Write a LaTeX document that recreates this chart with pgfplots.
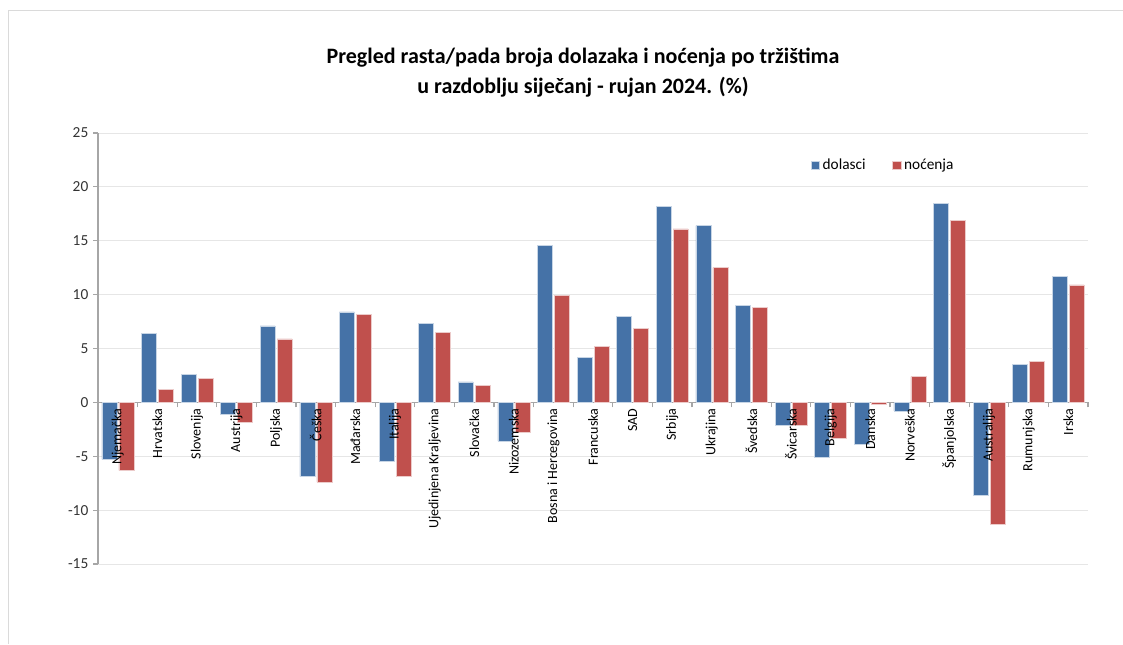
\documentclass[border=0pt]{standalone}
\usepackage{pgfplots}
\pgfplotsset{compat=1.18}
\usepackage{fontspec}
\setmainfont{Carlito}
\definecolor{barblue}{HTML}{4572A7}
\definecolor{barred}{HTML}{C0504D}
\definecolor{gridc}{HTML}{E6E6E6}
\definecolor{axisc}{HTML}{A6A6A6}
\definecolor{framec}{HTML}{DADADA}
\pgfplotstableread{
x d n
0 -5.3 -6.3
1 6.4 1.2
2 2.6 2.2
3 -1.1 -1.8
4 7.1 5.9
5 -6.9 -7.4
6 8.4 8.2
7 -5.5 -6.9
8 7.3 6.5
9 1.9 1.6
10 -3.6 -2.8
11 14.6 9.9
12 4.2 5.2
13 8.0 6.9
14 18.2 16.1
15 16.4 12.5
16 9.0 8.8
17 -2.1 -2.1
18 -5.1 -3.3
19 -3.9 -0.2
20 -0.8 2.4
21 18.5 16.9
22 -8.6 -11.3
23 3.5 3.8
24 11.7 10.9
}\datatable
\begin{document}
\begin{tikzpicture}[lbl/.style={rotate=90, anchor=east, font=\fontsize{10.5}{12}\selectfont, text=black, inner xsep=4.5pt, inner ysep=0pt}]
\useasboundingbox (0,0) rectangle (842.25pt,483pt);
\draw[color=framec, line width=0.75pt] (6pt,0) -- (6pt,474.75pt) -- (842.25pt,474.75pt);
\node[font=\fontsize{16.5}{18}\selectfont\bfseries] at (437.25pt,439.5pt) {Pregled rasta/pada broja dolazaka i noćenja po tržištima};
\node[font=\fontsize{16.5}{18}\selectfont\bfseries] at (437.25pt,417.75pt) {u razdoblju siječanj - rujan 2024. (\%)};
\begin{axis}[
  at={(73.5pt,60pt)}, anchor=south west,
  scale only axis, width=742.5pt, height=323.25pt,
  xmin=-0.5, xmax=24.5, ymin=-15, ymax=25,
  clip=false,
  ytick={-15,-10,...,25},
  axis y line=left, axis x line=middle,
  axis line style={-, draw=axisc, line width=0.9pt},
  ybar, bar width=11.25pt, ybar=1.5pt,
  xtick={0,...,24},
  xticklabels={},
  xtick style={draw=none},
  minor xtick={-0.5,0.5,...,24.5},
  minor x tick style={draw=axisc, line width=0.9pt},
  minor tick length=3.75pt, major tick length=3.75pt,
  tick align=outside,
  ytick style={draw=axisc, line width=0.9pt},
  ymajorgrids, grid style={gridc, line width=0.75pt},
  yticklabel style={font=\fontsize{11.5}{12}\selectfont, text=black!80},
  /pgf/number format/assume math mode=true,
  legend style={at={(0.7934,0.9246)}, anchor=center, draw=none, fill=none,
    font=\fontsize{11.5}{12}\selectfont, legend columns=2,
    /tikz/every even column/.append style={column sep=18pt}},
  legend image code/.code={\fill[#1] (0pt,-3pt) rectangle (6.5pt,3.5pt);},
]
\addplot[fill=barblue, draw=white!70!barblue, line width=0.4pt] table[x=x, y=d] {\datatable};
\addplot[fill=barred, draw=white!70!barred, line width=0.4pt] table[x=x, y=n] {\datatable};
\legend{dolasci, noćenja}
\node[lbl] at (axis cs:0,0) {Njemačka};
\node[lbl] at (axis cs:1,0) {Hrvatska};
\node[lbl] at (axis cs:2,0) {Slovenija};
\node[lbl] at (axis cs:3,0) {Austrija};
\node[lbl] at (axis cs:4,0) {Poljska};
\node[lbl] at (axis cs:5,0) {Češka};
\node[lbl] at (axis cs:6,0) {Mađarska};
\node[lbl] at (axis cs:7,0) {Italija};
\node[lbl] at (axis cs:8,0) {Ujedinjena Kraljevina};
\node[lbl] at (axis cs:9,0) {Slovačka};
\node[lbl] at (axis cs:10,0) {Nizozemska};
\node[lbl] at (axis cs:11,0) {Bosna i Hercegovina};
\node[lbl] at (axis cs:12,0) {Francuska};
\node[lbl] at (axis cs:13,0) {SAD};
\node[lbl] at (axis cs:14,0) {Srbija};
\node[lbl] at (axis cs:15,0) {Ukrajina};
\node[lbl] at (axis cs:16,0) {Švedska};
\node[lbl] at (axis cs:17,0) {Švicarska};
\node[lbl] at (axis cs:18,0) {Belgija};
\node[lbl] at (axis cs:19,0) {Danska};
\node[lbl] at (axis cs:20,0) {Norveška};
\node[lbl] at (axis cs:21,0) {Španjolska};
\node[lbl] at (axis cs:22,0) {Australija};
\node[lbl] at (axis cs:23,0) {Rumunjska};
\node[lbl] at (axis cs:24,0) {Irska};
\end{axis}
\end{tikzpicture}
\end{document}
